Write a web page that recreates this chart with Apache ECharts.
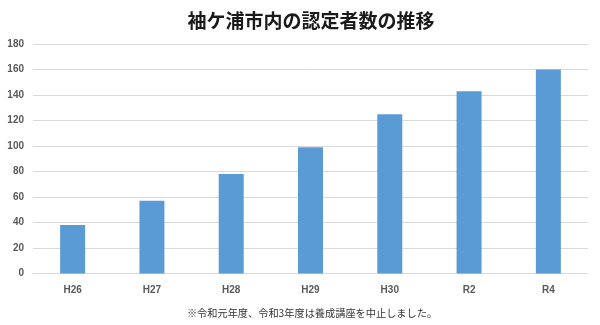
<!DOCTYPE html>
<html>
<head>
<meta charset="utf-8">
<script src="https://cdn.jsdelivr.net/npm/echarts@6/dist/echarts.min.js"></script>
<style>
  html, body { margin: 0; padding: 0; background: #fff; }
  #chart { width: 600px; height: 325px; }
</style>
</head>
<body>
<div id="chart"></div>
<script>
// Fiscal years and number of certified people per year
const years = ['H26', 'H27', 'H28', 'H29', 'H30', 'R2', 'R4'];
const certified = [38, 57, 78, 99, 125, 143, 160];
const titleText = '袖ケ浦市内の認定者数の推移';
const noteText = '※令和元年度、令和3年度は養成講座を中止しました。';

const chart = echarts.init(document.getElementById('chart'), null, { renderer: 'canvas' });
chart.setOption({
  backgroundColor: '#ffffff',
  animation: false,
  title: [
    {
      text: titleText,
      left: 306,
      top: 6,
      textAlign: 'center',
      textStyle: {
        fontFamily: '"Noto Sans CJK JP", sans-serif',
        fontSize: 19,
        fontWeight: 'bold',
        color: '#1a1a1a'
      }
    },
    {
      text: noteText,
      left: 307,
      top: 303,
      textAlign: 'center',
      textStyle: {
        fontFamily: '"Noto Sans CJK JP", sans-serif',
        fontSize: 10.2,
        fontWeight: 'normal',
        color: '#333333'
      }
    }
  ],
  grid: { left: 33, right: 12, top: 44, bottom: 51.5, containLabel: false },
  xAxis: {
    type: 'category',
    data: years,
    axisLine: { lineStyle: { color: '#d9d9d9', width: 1 } },
    axisTick: { show: false },
    axisLabel: {
      margin: 12,
      fontFamily: '"Liberation Sans", Arial, sans-serif',
      fontSize: 10,
      fontWeight: 'bold',
      color: '#595959'
    }
  },
  yAxis: {
    type: 'value',
    min: 0,
    max: 180,
    interval: 20,
    axisLine: { show: false },
    axisTick: { show: false },
    splitLine: { lineStyle: { color: '#d9d9d9', width: 1 } },
    axisLabel: {
      margin: 9,
      fontFamily: '"Liberation Sans", Arial, sans-serif',
      fontSize: 10,
      fontWeight: 'bold',
      color: '#595959'
    }
  },
  series: [
    {
      type: 'bar',
      data: certified,
      barWidth: 25,
      itemStyle: { color: '#5b9bd5' }
    }
  ]
});
</script>
</body>
</html>
